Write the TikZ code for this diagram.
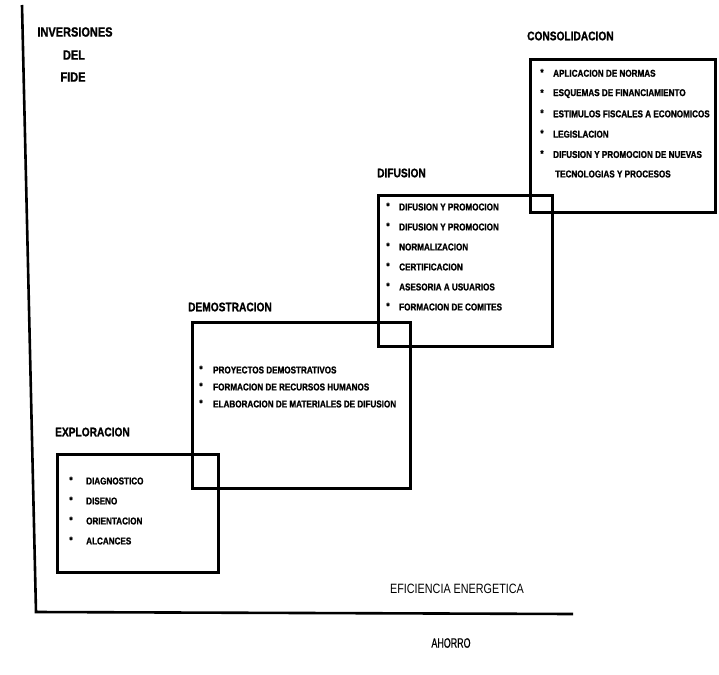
\documentclass[tikz,border=0pt]{standalone}
\usepackage{fontspec}
\setmainfont{Liberation Sans}
\newfontfamily\condbold[FakeStretch=0.82,FakeBold=1.2]{Liberation Sans Bold}
\newfontfamily\condreg[FakeStretch=0.80]{Liberation Sans}
\newfontfamily\narrowreg[FakeStretch=0.66,FakeBold=0.6]{Liberation Sans}
\begin{document}
\begin{tikzpicture}[x=1pt,y=-1pt]
 \tikzset{box/.style={line width=3pt},
  axis/.style={line width=2.6pt, line join=miter},
  title/.style={anchor=west, inner sep=0pt, font=\condbold\fontsize{12.4}{14}\selectfont},
  item/.style={anchor=west, inner sep=0pt, font=\condbold\fontsize{9.9}{11}\selectfont},
  bul/.style={inner sep=0pt, font=\condbold\fontsize{10}{10}\selectfont},
  axlabel/.style={inner sep=0pt, font=\condreg\fontsize{13.5}{15}\selectfont}}
  \useasboundingbox (0,0) rectangle (719,674);
  % ejes
  \coordinate (Ytop) at (22,5);
  \coordinate (O) at (36,612);
  \coordinate (Xend) at (573,614);
  \draw[axis] (Ytop) -- (O) -- (Xend);
  \node[title, anchor=center, font=\condbold\fontsize{13.4}{15}\selectfont] (I1) at (75,32) {INVERSIONES};
  \node[title, anchor=center, font=\condbold\fontsize{13.4}{15}\selectfont] (I2) at (74,55) {DEL};
  \node[title, anchor=center, font=\condbold\fontsize{13.4}{15}\selectfont] (I3) at (73,77) {FIDE};
  \node[axlabel] (EE) at (457,589) {EFICIENCIA ENERGETICA};
  \node[axlabel, font=\narrowreg\fontsize{13.5}{15}\selectfont] (AH) at (451,643) {AHORRO};
  % etapas
  \draw[box] (57,454) rectangle (218,572);
  \draw[box] (192,322) rectangle (410,488);
  \draw[box] (378,195) rectangle (552,346);
  \draw[box] (530,60) rectangle (715,212);
  \node[title] (EXP) at (55,432) {EXPLORACION};
  \node[title] (DEM) at (188,307) {DEMOSTRACION};
  \node[title] (DIF) at (377,173) {DIFUSION};
  \node[title] (CON) at (527,36) {CONSOLIDACION};
  \foreach \txt [count=\i] in {DIAGNOSTICO, DISENO, ORIENTACION, ALCANCES} {
    \node[bul] (EXPb\i) at (71,460+20*\i) {*};
    \node[item] (EXP\i) at (86,461+20*\i) {\txt};
  }
  \foreach \txt [count=\i] in {PROYECTOS DEMOSTRATIVOS, FORMACION DE RECURSOS HUMANOS, ELABORACION DE MATERIALES DE DIFUSION} {
    \node[bul] (DEMb\i) at (201,352+17*\i) {*};
    \node[item] (DEM\i) at (213,353+17*\i) {\txt};
  }
  \foreach \txt [count=\i] in {DIFUSION Y PROMOCION, DIFUSION Y PROMOCION, NORMALIZACION, CERTIFICACION, ASESORIA A USUARIOS, FORMACION DE COMITES} {
    \node[bul] (DIFb\i) at (388,186+20*\i) {*};
    \node[item] (DIF\i) at (399,187+20*\i) {\txt};
  }
  \foreach \txt [count=\i] in {APLICACION DE NORMAS, ESQUEMAS DE FINANCIAMIENTO, ESTIMULOS FISCALES A ECONOMICOS, LEGISLACION, DIFUSION Y PROMOCION DE NUEVAS} {
    \node[bul] (CONb\i) at (542,52+20.3*\i) {*};
    \node[item] (CON\i) at (553,53+20.3*\i) {\txt};
  }
  \node[item] (CON6) at (555,174) {TECNOLOGIAS Y PROCESOS};
\end{tikzpicture}
\end{document}
